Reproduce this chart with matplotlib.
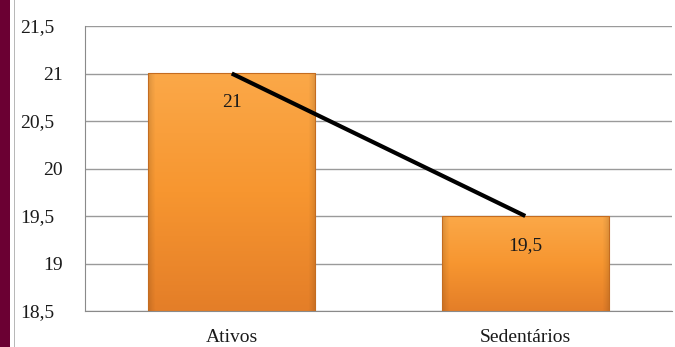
import matplotlib
matplotlib.use("Agg")
import matplotlib.pyplot as plt
import matplotlib.transforms as mtransforms
import numpy as np
from matplotlib.patches import Rectangle

categories = ["Ativos", "Sedentários"]
values = [21.0, 19.5]
value_labels = ["21", "19,5"]
yticks = [18.5, 19, 19.5, 20, 20.5, 21, 21.5]

plt.rcParams['font.family'] = ['Liberation Serif', 'DejaVu Serif']

fig = plt.figure(figsize=(6.75, 3.47), dpi=100)
# maroon strip and thin grey rule on the left edge
fig.patches.append(Rectangle((0, 0), 10 / 675, 1, transform=fig.transFigure,
                             facecolor="#6B0033", edgecolor="none", zorder=0))
fig.patches.append(Rectangle((13.5 / 675, 0), 1.5 / 675, 1, transform=fig.transFigure,
                             facecolor="#B8B8B8", edgecolor="none", zorder=0))

ax = fig.add_axes([85 / 675, 1 - 311 / 347, 587 / 675, 285 / 347])
x = np.arange(len(categories))
width = 0.57
ymin, ymax = 18.5, 21.5


def bevel_image(n=120, m=120):
    # orange fill, lighter on top, darker toward the bottom and the sides
    top = np.array([0xFB, 0xA8, 0x48]) / 255
    mid = np.array([0xF7, 0x96, 0x30]) / 255
    bot = np.array([0xE4, 0x7E, 0x28]) / 255
    t = np.linspace(0, 1, n)[:, None]
    col = np.where(t < 0.5, top + (mid - top) * (t / 0.5), mid + (bot - mid) * ((t - 0.5) / 0.5))
    img = np.repeat(col[:, None, :], m, axis=1)
    u = np.linspace(0, 1, m)
    edge = np.minimum(u, 1 - u)
    shade = 1 - 0.12 * np.clip(1 - edge / 0.04, 0, 1)
    img = img * shade[None, :, None]
    return np.clip(img, 0, 1)


for xi, v in zip(x, values):
    bar = ax.bar(xi, v - ymin, width, bottom=ymin, color="none",
                 edgecolor="#C46C20", linewidth=0.8, zorder=3)[0]
    img = ax.imshow(bevel_image(), aspect="auto", origin="upper",
                    extent=(xi - width / 2, xi + width / 2, ymin, v), zorder=2)
    img.set_clip_path(bar)

ax.plot(x, values, color="black", linewidth=3, solid_capstyle="butt", zorder=4)

for xi, v, lab in zip(x, values, value_labels):
    ax.annotate(lab, xy=(xi, v), xytext=(0, -15), textcoords="offset points",
                ha="center", va="top", fontsize=14, color="#1a1a1a", zorder=5)

ax.set_xlim(-0.5, 1.5)
ax.set_ylim(ymin, ymax)
ax.set_yticks(yticks)
ax.set_yticklabels([f"{t:g}".replace(".", ",") for t in yticks])
ax.set_xticks(x)
ax.set_xticklabels(categories)
ax.tick_params(axis="both", length=0, labelsize=14, labelcolor="#1a1a1a")
ax.tick_params(axis="y", pad=16)
ax.tick_params(axis="x", pad=13)
# decimal labels sit a little further left than the whole numbers
for t, lab in zip(yticks, ax.get_yticklabels()):
    if t != int(t):
        lab.set_transform(lab.get_transform() +
                          mtransforms.ScaledTranslation(-6 / 72, 0, fig.dpi_scale_trans))
ax.yaxis.grid(True, color="#9A9A9A", linewidth=1)
ax.set_axisbelow(True)
for side in ["top", "right"]:
    ax.spines[side].set_visible(False)
ax.spines["left"].set_color("#8A8A8A")
ax.spines["bottom"].set_color("#8A8A8A")

fig.savefig("out.png", dpi=100)
